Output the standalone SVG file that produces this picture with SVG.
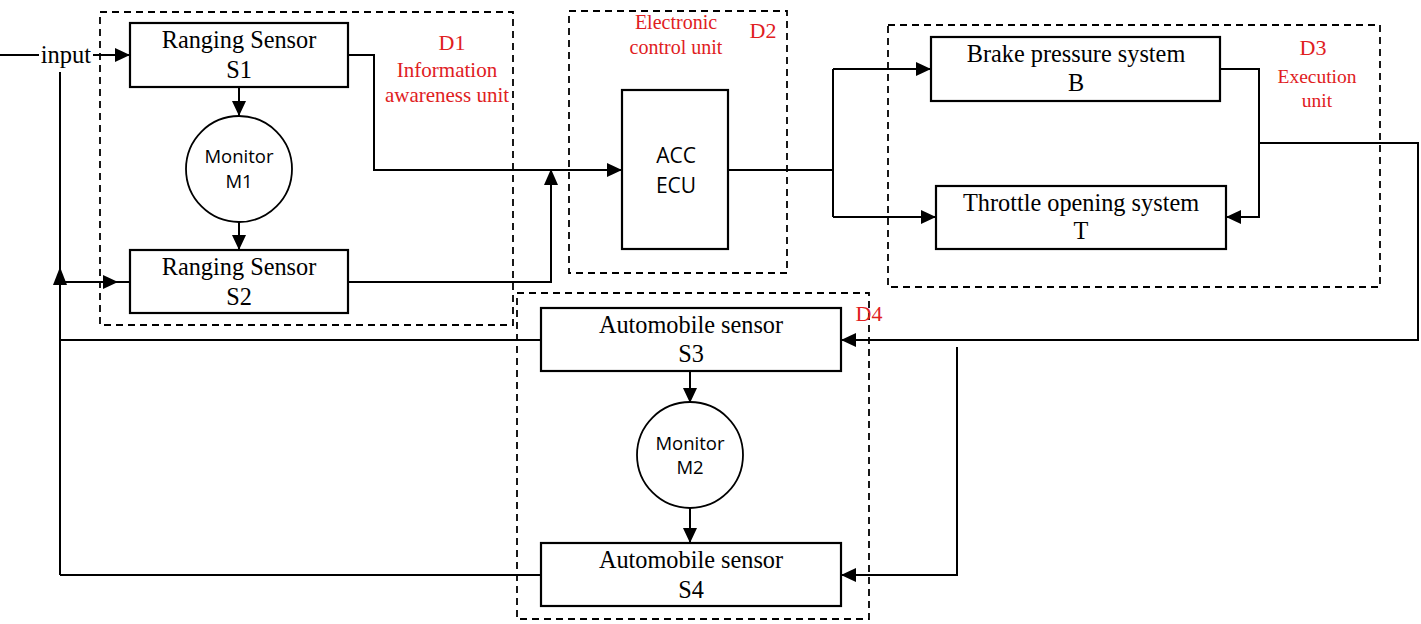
<svg xmlns="http://www.w3.org/2000/svg" width="1421" height="624" viewBox="0 0 1421 624">
<defs>
<style>
.box{fill:#fff;stroke:#000;stroke-width:2.2}
.circ{fill:#fff;stroke:#000;stroke-width:1.8}
.grp{fill:none;stroke:#000;stroke-width:1.8;stroke-dasharray:7 5}
.ln{fill:none;stroke:#000;stroke-width:2}
.t{font-family:"Liberation Serif","Times New Roman",serif;font-size:24.3px;fill:#000;text-anchor:middle}
.s{font-family:"Open Sans","Liberation Sans",sans-serif;fill:#000;text-anchor:middle}
.r{font-family:"Liberation Serif","Times New Roman",serif;font-size:19.5px;fill:#E0201E;text-anchor:middle}
.d{font-size:22px}
.ah{fill:#000}
</style>
<marker id="arr" markerUnits="userSpaceOnUse" markerWidth="16" markerHeight="16" viewBox="0 0 16 16" refX="15" refY="8" orient="auto">
<path d="M0,1 L15,8 L0,15 Z" fill="#000"/>
</marker>
</defs>
<rect width="1421" height="624" fill="#fff"/>

<g id="groups">
<rect id="D1" class="grp" x="100" y="12" width="413" height="313"/>
<rect id="D2" class="grp" x="569" y="11" width="218" height="262"/>
<rect id="D3" class="grp" x="888" y="25" width="492" height="262"/>
<rect id="D4" class="grp" x="517" y="293" width="352" height="326"/>
</g>

<g id="connectors">
<line class="ln" x1="0" y1="55" x2="39" y2="55"/>
<line class="ln" x1="93" y1="55" x2="130" y2="55" marker-end="url(#arr)"/>
<line class="ln" x1="60" y1="72" x2="60" y2="575"/>
<path class="ah" d="M60,267 L67,285 L53,285 Z"/>
<line class="ln" x1="60" y1="282" x2="130" y2="282"/>
<path class="ah" d="M118,282 L103,275 L103,289 Z"/>
<line class="ln" x1="239" y1="87" x2="239" y2="116" marker-end="url(#arr)"/>
<line class="ln" x1="239" y1="222" x2="239" y2="250" marker-end="url(#arr)"/>
<polyline class="ln" points="348,55 374,55 374,170 622,170" marker-end="url(#arr)"/>
<polyline class="ln" points="348,282 551,282 551,171"/>
<path class="ah" d="M551,169 L558,185 L544,185 Z"/>
<polyline class="ln" points="728,170 833,170"/>
<polyline class="ln" points="833,69 833,217"/>
<line class="ln" x1="833" y1="69" x2="931" y2="69" marker-end="url(#arr)"/>
<line class="ln" x1="833" y1="217" x2="936" y2="217" marker-end="url(#arr)"/>
<polyline class="ln" points="1220,69 1259,69 1259,217 1226,217" marker-end="url(#arr)"/>
<polyline class="ln" points="1259,143 1418,143 1418,340 841,340" marker-end="url(#arr)"/>
<polyline class="ln" points="957,347 957,575 841,575" marker-end="url(#arr)"/>
<line class="ln" x1="690" y1="371" x2="690" y2="403" marker-end="url(#arr)"/>
<line class="ln" x1="690" y1="508" x2="690" y2="543" marker-end="url(#arr)"/>
<line class="ln" x1="541" y1="340" x2="60" y2="340"/>
<line class="ln" x1="541" y1="575" x2="60" y2="575"/>
</g>

<text class="t" x="66" y="63" style="font-size:24.5px">input</text>

<g id="S1">
<rect class="box" x="130" y="23" width="218" height="64"/>
<text class="t" x="239" y="48">Ranging Sensor</text>
<text class="t" x="239" y="78">S1</text>
</g>
<g id="M1">
<circle class="circ" cx="239" cy="169" r="53"/>
<text class="s" x="239" y="163" font-size="18.5">Monitor</text>
<text class="s" x="239" y="188" font-size="18.5">M1</text>
</g>
<g id="S2">
<rect class="box" x="130" y="250" width="218" height="63"/>
<text class="t" x="239" y="275">Ranging Sensor</text>
<text class="t" x="239" y="305">S2</text>
</g>
<g id="ECU">
<rect class="box" x="622" y="90" width="106" height="159"/>
<text class="s" x="676" y="163" font-size="21">ACC</text>
<text class="s" x="676" y="193" font-size="21">ECU</text>
</g>
<g id="B">
<rect class="box" x="931" y="37" width="289" height="64"/>
<text class="t" x="1076" y="62">Brake pressure system</text>
<text class="t" x="1076" y="91">B</text>
</g>
<g id="T">
<rect class="box" x="936" y="186" width="290" height="63"/>
<text class="t" x="1081" y="211">Throttle opening system</text>
<text class="t" x="1081" y="239">T</text>
</g>
<g id="S3">
<rect class="box" x="541" y="308" width="300" height="63"/>
<text class="t" x="691" y="333">Automobile sensor</text>
<text class="t" x="691" y="362">S3</text>
</g>
<g id="M2">
<circle class="circ" cx="690" cy="455" r="53"/>
<text class="s" x="690" y="450" font-size="18.5">Monitor</text>
<text class="s" x="690" y="474" font-size="18.5">M2</text>
</g>
<g id="S4">
<rect class="box" x="541" y="543" width="300" height="63"/>
<text class="t" x="691" y="568">Automobile sensor</text>
<text class="t" x="691" y="598">S4</text>
</g>

<g id="labels">
<text class="r d" x="452" y="50">D1</text>
<text class="r" x="447" y="77" style="font-size:21px">Information</text>
<text class="r" x="447" y="102" style="font-size:21px">awareness unit</text>
<text class="r" x="676" y="29" style="font-size:20px">Electronic</text>
<text class="r" x="676" y="54" style="font-size:20px">control unit</text>
<text class="r d" x="763" y="38">D2</text>
<text class="r d" x="1313" y="55">D3</text>
<text class="r" x="1317" y="83">Execution</text>
<text class="r" x="1317" y="107">unit</text>
<text class="r d" x="869" y="321">D4</text>
</g>
</svg>
